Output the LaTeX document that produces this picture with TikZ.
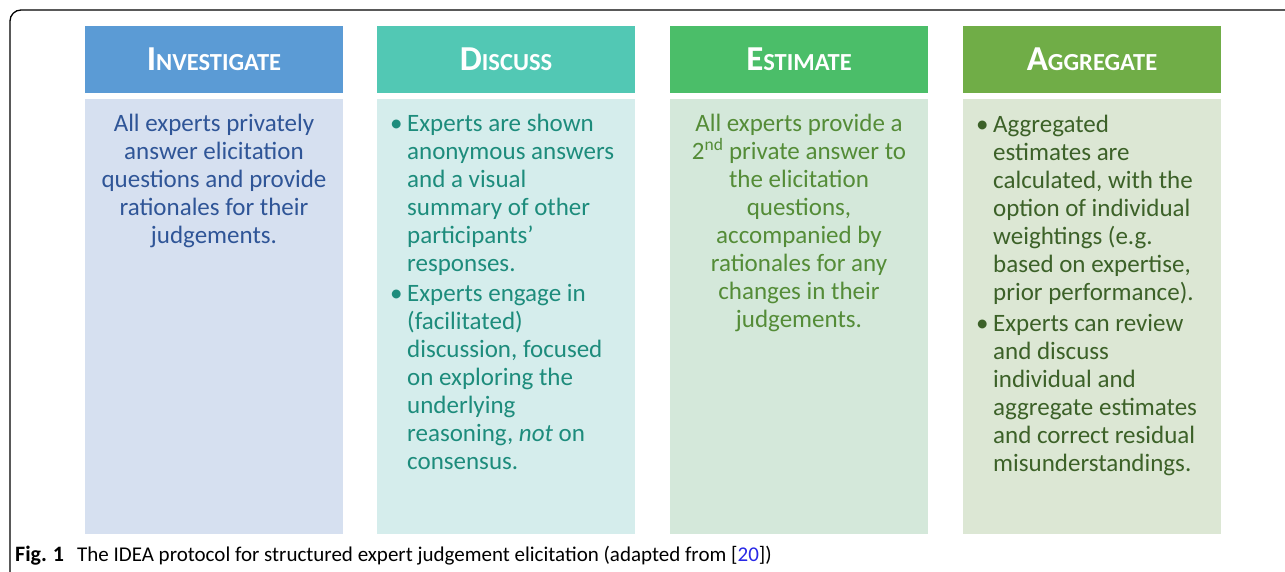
\documentclass[tikz,border=0pt]{standalone}
\usepackage{fontspec}
\setmainfont{Carlito}
\definecolor{hA}{RGB}{91,155,213}
\definecolor{hB}{RGB}{82,200,180}
\definecolor{hC}{RGB}{75,190,105}
\definecolor{hD}{RGB}{112,173,71}
\definecolor{bA}{RGB}{214,224,240}
\definecolor{bB}{RGB}{213,237,236}
\definecolor{bC}{RGB}{212,232,218}
\definecolor{bD}{RGB}{220,231,212}
\definecolor{tA}{RGB}{47,85,151}
\definecolor{tB}{RGB}{29,140,124}
\definecolor{tC}{RGB}{84,140,55}
\definecolor{tD}{RGB}{60,97,40}
\definecolor{linkblue}{RGB}{40,40,230}
\newcommand{\hdtext}[2]{{\fontsize{35}{38}\selectfont #1}{\fontsize{24.5}{28}\selectfont #2}}
\newcommand{\firstrule}{\rule{0pt}{18pt}}
\tikzset{
  headbox/.style={fill=#1, draw=none, minimum width=258pt, minimum height=67pt, inner sep=0pt, anchor=north west},
  bodybox/.style={fill=#1, draw=none, minimum width=258pt, minimum height=435pt, inner sep=0pt, anchor=north west},
  headtext/.style={text=white, font=\bfseries, anchor=base, inner sep=0pt},
  bodytext/.style={text=#1, font=\fontsize{25}{28}\selectfont, inner sep=0pt, anchor=north},
  bullettext/.style={text=#1, font=\fontsize{25}{28}\selectfont, inner sep=0pt, anchor=north west, align=left},
  bulletmark/.style={text=#1, font=\fontsize{25}{28}\selectfont, inner sep=0pt, anchor=base west},
}
\begin{document}
\begin{tikzpicture}[x=1pt,y=1pt]
\useasboundingbox (0,0) rectangle (1285,-571);
\clip (0,0) rectangle (1285,-571);
\fill[white] (0,0) rectangle (1285,-571);
% frame
\draw[line width=1.3pt, rounded corners=11pt] (1300,-10) -- (10,-10) -- (10,-590);
% column boxes
\node[headbox=hA] (h1) at (85,-26) {};
\node[headbox=hB] (h2) at (377,-26) {};
\node[headbox=hC] (h3) at (670,-26) {};
\node[headbox=hD] (h4) at (963,-26) {};
\node[bodybox=bA] (b1) at (85,-99) {};
\node[bodybox=bB] (b2) at (377,-99) {};
\node[bodybox=bC] (b3) at (670,-99) {};
\node[bodybox=bD] (b4) at (963,-99) {};
% headings
\node[headtext] (t1) at (214,-70) {\hdtext{I}{NVESTIGATE}};
\node[headtext] (t2) at (506,-70) {\hdtext{D}{ISCUSS}};
\node[headtext] (t3) at (799,-70) {\hdtext{E}{STIMATE}};
\node[headtext] (t4) at (1092,-70) {\hdtext{A}{GGREGATE}};
% body texts
\node[bodytext=tA, align=center] (x1) at (214,-113) {\firstrule All experts privately\\answer elicitation\\questions and provide\\rationales for their\\judgements.};
\node[bulletmark=tB] (m2a) at (390,-131) {\textbullet};
\node[bullettext=tB] (x2a) at (407,-113) {\firstrule Experts are shown\\anonymous answers\\and a visual\\summary of other\\participants’\\responses.};
\node[bulletmark=tB] (m2b) at (390,-301) {\textbullet};
\node[bullettext=tB] (x2b) at (407,-283) {\firstrule Experts engage in\\(facilitated)\\discussion, focused\\on exploring the\\underlying\\reasoning, \textit{not} on\\consensus.};
\node[bulletmark=tD] (m4a) at (976,-132) {\textbullet};
\node[bullettext=tD] (x4a) at (993,-114) {\firstrule Aggregated\\estimates are\\calculated, with the\\option of individual\\weightings (e.g.\\based on expertise,\\prior performance).};
\node[bulletmark=tD] (m4b) at (976,-331) {\textbullet};
\node[bullettext=tD] (x4b) at (993,-313) {\firstrule Experts can review\\and discuss\\individual and\\aggregate estimates\\and correct residual\\misunderstandings.};
\node[bodytext=tC, align=center] (x3) at (799,-113) {\firstrule All experts provide a\\2\textsuperscript{nd} private answer to\\the elicitation\\questions,\\accompanied by\\rationales for any\\changes in their\\judgements.};
% caption
\node[anchor=base west, inner sep=0pt, font=\fontsize{21}{24}\selectfont] (cap) at (15,-561) {{\fontsize{22}{24}\selectfont\textbf{Fig.\hspace{6pt}1}}\hspace{13pt}The IDEA protocol for structured expert judgement elicitation (adapted from [\textcolor{linkblue}{20}])};
\end{tikzpicture}
\end{document}
